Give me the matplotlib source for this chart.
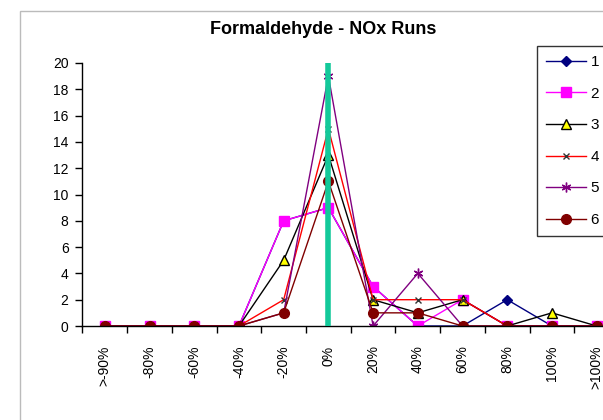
import matplotlib
matplotlib.use('Agg')
import matplotlib.pyplot as plt
from matplotlib.patches import Rectangle

plt.rcParams['font.family'] = ['Liberation Sans', 'DejaVu Sans']

categories = ['>-90%', '-80%', '-60%', '-40%', '-20%', '0%', '20%', '40%',
              '60%', '80%', '100%', '>100%']

run1 = [0, 0, 0, 0, 8, 9, 3, 0, 0, 2, 0, 0]
run2 = [0, 0, 0, 0, 8, 9, 3, 0, 2, 0, 0, 0]
run3 = [0, 0, 0, 0, 5, 13, 2, 1, 2, 0, 1, 0]
run4 = [0, 0, 0, 0, 2, 15, 2, 2, 2, 0, 0, 0]
run5 = [0, 0, 0, 0, 1, 19, 0, 4, 0, 0, 0, 0]
run6 = [0, 0, 0, 0, 1, 11, 1, 1, 0, 0, 0, 0]

W, H = 603, 420
fig = plt.figure(figsize=(W / 100, H / 100), dpi=100)
fig.patch.set_facecolor('white')

# outer chart border (only top/left visible in the original)
fig.patches.append(Rectangle((20 / W, 0 - 0.1), 1.2, (H - 11) / H + 0.1,
                             transform=fig.transFigure, fill=False,
                             edgecolor='#bbbbbb', lw=1))

left, right, top, bottom = 82.5, 619, 63, 326
ax = fig.add_axes([left / W, 1 - bottom / H, (right - left) / W, (bottom - top) / H])

x = list(range(len(categories)))
ax.plot(x, run1, color='#000080', lw=1, marker='D', ms=5.5, mfc='#000080', mec='#000080', label='1')
ax.plot(x, run2, color='#FF00FF', lw=1, marker='s', ms=6.5, mfc='#FF00FF', mec='#FF00FF', label='2')
ax.plot(x, run3, color='black', lw=1, marker='^', ms=7, mfc='#FFFF00', mec='black', label='3')
ax.plot(x, run4, color='#FF0000', lw=1, marker='x', ms=5, mec='#333333', mew=1, label='4')
ax.plot(x, run5, color='#800080', lw=1, marker=(6, 2, 0), ms=7, mec='#800080', mew=1, label='5')
ax.plot(x, run6, color='#800000', lw=1, marker='o', ms=7, mfc='#800000', mec='#800000', label='6')

ax.axvline(5, color='#13C99A', lw=4, zorder=10)

ax.set_xlim(-0.5, len(categories) - 0.5)
ax.set_ylim(0, 20)
ax.set_yticks(range(0, 21, 2))
ax.set_xticks(x)
ax.set_xticklabels(categories, rotation=90, fontsize=10)
ax.set_xticks([i - 0.5 for i in range(len(categories) + 1)], minor=True)
ax.tick_params(axis='x', which='major', length=0, pad=14)
ax.tick_params(axis='x', which='minor', length=5, direction='out', width=1)
ax.tick_params(axis='y', length=5, direction='out', width=1, labelsize=10, pad=5)

for s in ['top', 'right']:
    ax.spines[s].set_visible(False)
for s in ['left', 'bottom']:
    ax.spines[s].set_color('black')
    ax.spines[s].set_linewidth(1)

fig.text(323 / W, 1 - 29 / H, 'Formaldehyde - NOx Runs', ha='center', va='center',
         fontsize=13, fontweight='bold')

leg = fig.legend(loc='upper left', bbox_to_anchor=(537 / W, 1 - 46 / H),
                 frameon=True, fancybox=False, fontsize=11, handlelength=2.6,
                 labelspacing=1.15, borderpad=0.6, borderaxespad=0,
                 handletextpad=0.3)
leg.get_frame().set_edgecolor('black')
leg.get_frame().set_linewidth(1)

fig.savefig('out.png', dpi=100)
